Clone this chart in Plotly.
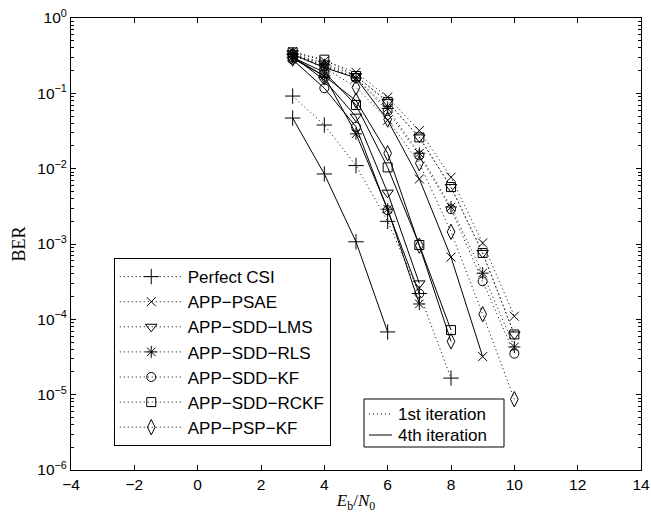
import plotly.graph_objects as go

# ---------------- data ----------------
snr = [3, 4, 5, 6, 7, 8, 9, 10]

pcsi_1_x = [3, 4, 5, 6, 7, 8]
pcsi_1 = [0.092, 0.038, 0.011, 2.0e-3, 2.2e-4, 1.66e-5]
pcsi_4_x = [3, 4, 5, 6]
pcsi_4 = [0.047, 0.0085, 1.07e-3, 6.8e-5]

psae_1 = [0.36, 0.27, 0.19, 0.089, 0.032, 7.7e-3, 1.03e-3, 1.1e-4]
psae_4_x = [3, 4, 5, 6, 7, 8, 9]
psae_4 = [0.33, 0.22, 0.16, 0.044, 7.3e-3, 6.7e-4, 3.2e-5]

lms_1 = [0.34, 0.25, 0.17, 0.077, 0.026, 5.7e-3, 7.6e-4, 6.3e-5]
lms_4_x = [3, 4, 5, 6, 7]
lms_4 = [0.31, 0.15, 0.049, 4.8e-3, 3.0e-4]

rls_1 = [0.33, 0.24, 0.16, 0.063, 0.016, 3.1e-3, 4.1e-4, 4.3e-5]
rls_4_x = [3, 4, 5, 6, 7]
rls_4 = [0.30, 0.17, 0.029, 2.9e-3, 1.6e-4]

kf_1 = [0.33, 0.23, 0.16, 0.058, 0.015, 2.9e-3, 3.2e-4, 3.5e-5]
kf_4_x = [3, 4, 5, 6, 7]
kf_4 = [0.28, 0.117, 0.036, 2.8e-3, 2.2e-4]

rckf_1 = [0.35, 0.28, 0.17, 0.077, 0.026, 5.7e-3, 7.6e-4, 6.3e-5]
rckf_4_x = [3, 4, 5, 6, 7, 8]
rckf_4 = [0.30, 0.19, 0.07, 0.0104, 9.7e-4, 7.2e-5]

psp_1 = [0.32, 0.22, 0.12, 0.045, 0.0118, 1.45e-3, 1.17e-4, 8.7e-6]
psp_4_x = [3, 4, 5, 6, 7, 8]
psp_4 = [0.29, 0.17, 0.08, 0.016, 9.5e-4, 5.1e-5]

names = ["Perfect CSI", "APP\u2212PSAE", "APP\u2212SDD\u2212LMS", "APP\u2212SDD\u2212RLS",
         "APP\u2212SDD\u2212KF", "APP\u2212SDD\u2212RCKF", "APP\u2212PSP\u2212KF"]
symbols = ["cross-thin-open", "x-thin-open", "triangle-down-open", "asterisk-open",
           "circle-open", "square-open", "diamond-tall-open"]
sizes = [11, 9, 10, 10, 9, 9, 11]

iter_labels = ["1st iteration", "4th iteration"]

first_iter = [(pcsi_1_x, pcsi_1), (snr, psae_1), (snr, lms_1), (snr, rls_1),
              (snr, kf_1), (snr, rckf_1), (snr, psp_1)]
fourth_iter = [(pcsi_4_x, pcsi_4), (psae_4_x, psae_4), (lms_4_x, lms_4), (rls_4_x, rls_4),
               (kf_4_x, kf_4), (rckf_4_x, rckf_4), (psp_4_x, psp_4)]

xtick_vals = [-4, -2, 0, 2, 4, 6, 8, 10, 12, 14]
ytick_vals = [1e-6, 1e-5, 1e-4, 1e-3, 1e-2, 1e-1, 1]
ytick_text = ["10<sup>\u22126</sup>", "10<sup>\u22125</sup>", "10<sup>\u22124</sup>",
              "10<sup>\u22123</sup>", "10<sup>\u22122</sup>", "10<sup>\u22121</sup>", "10<sup>0</sup>"]

DOT = "1px,3px"

fig = go.Figure()

for i, (xx, yy) in enumerate(fourth_iter):
    fig.add_trace(go.Scatter(
        x=xx, y=yy, mode="lines+markers", showlegend=False,
        line=dict(color="black", width=1),
        marker=dict(symbol=symbols[i], size=sizes[i], color="black",
                    line=dict(color="black", width=1))))

for i, (xx, yy) in enumerate(first_iter):
    fig.add_trace(go.Scatter(
        x=xx, y=yy, mode="lines+markers", name=names[i], legend="legend",
        line=dict(color="black", width=1, dash=DOT),
        marker=dict(symbol=symbols[i], size=sizes[i], color="black",
                    line=dict(color="black", width=1))))

sans = "Liberation Sans, Arial, Helvetica, sans-serif"
serif = "Liberation Serif, Times New Roman, serif"
tick_font = dict(family=sans, size=15.5, color="black")
leg_font = dict(family=sans, size=17, color="black")

# ---- second (line-style) legend, drawn in paper coordinates ----
L, R, T, B = 71, 641, 18, 470          # plot-area pixel box (for converting legend geometry)
def px(xp):
    return (xp - L) / (R - L)
def py(yp):
    return (B - yp) / (B - T)

shapes = [dict(type="rect", xref="paper", yref="paper",
               x0=px(364), x1=px(504), y0=py(447), y1=py(399),
               line=dict(color="black", width=1), fillcolor="white", layer="above")]
annots = []
for k, (lab, yy) in enumerate(zip(iter_labels, [414, 435])):
    shapes.append(dict(type="line", xref="paper", yref="paper",
                       x0=px(369), x1=px(392), y0=py(yy), y1=py(yy),
                       line=dict(color="black", width=1, dash=DOT if k == 0 else "solid"),
                       layer="above"))
    annots.append(dict(xref="paper", yref="paper", x=px(396), y=py(yy),
                       xanchor="left", yanchor="middle", showarrow=False,
                       text=lab, font=leg_font))

fig.update_layout(
    width=651, height=517,
    margin=dict(l=71, r=10, t=18, b=47, autoexpand=False),
    plot_bgcolor="white", paper_bgcolor="white",
    font=tick_font,
    xaxis=dict(range=[-4, 14], tickvals=xtick_vals,
               ticks="inside", ticklen=5, tickcolor="black",
               showline=True, linecolor="black", linewidth=1, mirror="ticks",
               showgrid=False, zeroline=False, tickfont=tick_font,
               ticklabeloverflow="allow", automargin=False,
               title=dict(text="<i>E</i><sub>b</sub>/<i>N</i><sub>0</sub>",
                          font=dict(family=serif, size=17, color="black"),
                          standoff=2)),
    yaxis=dict(type="log", range=[-6, 0], tickvals=ytick_vals, ticktext=ytick_text,
               ticks="inside", ticklen=5, tickcolor="black",
               minor=dict(ticks="inside", ticklen=3, tickcolor="black", dtick="D1"),
               showline=True, linecolor="black", linewidth=1, mirror="ticks",
               showgrid=False, zeroline=False, tickfont=tick_font,
               ticklabeloverflow="allow", automargin=False,
               title=dict(text="BER", font=dict(family=serif, size=18, color="black"),
                          standoff=6)),
    legend=dict(x=0.075, y=0.053, xanchor="left", yanchor="bottom",
                bgcolor="white", bordercolor="black", borderwidth=1,
                font=leg_font, itemwidth=63, tracegroupgap=0),
    shapes=shapes,
    annotations=annots,
)

fig.write_html("out.html")
